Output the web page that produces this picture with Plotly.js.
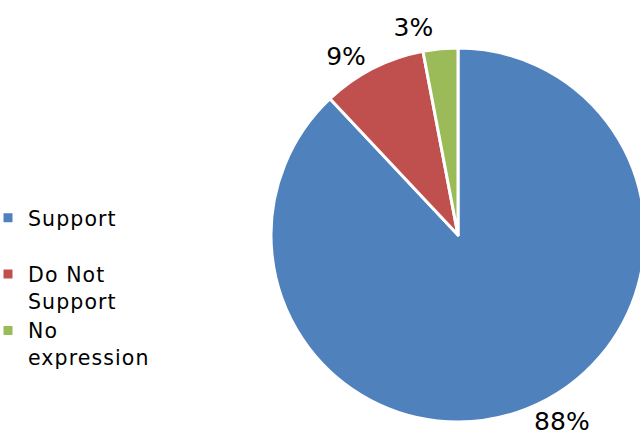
<!DOCTYPE html>
<html>
<head>
<meta charset="utf-8">
<script src="https://cdn.plot.ly/plotly-3.0.1.min.js"></script>
<style>
html,body{margin:0;padding:0;overflow:hidden;background:#fff;width:640px;height:445px;}
#chart{width:940px;height:445px;margin-left:-12px;}
.pielayer path.textline{display:none;}
.legendtext{letter-spacing:1.1px;}
</style>
</head>
<body>
<div id="chart"></div>
<script>
const categories = ["Support<br>&nbsp;", "Do Not<br>Support", "No<br>expression"];
const shares = [88, 9, 3];
const colors = ["#4F81BD", "#C0504D", "#9BBB59"];

const trace = {
  type: "pie",
  labels: categories,
  values: shares,
  sort: false,
  direction: "clockwise",
  rotation: 0,
  marker: {colors: colors, line: {color: "#ffffff", width: 3}},
  textinfo: "percent",
  textposition: "outside",
  outsidetextfont: {family: "DejaVu Sans", size: 25, color: "#000"},
  hoverinfo: "label+percent",
  domain: {x: [0, 1], y: [0, 1]}
};

const layout = {
  width: 940,
  height: 445,
  margin: {l: 0, r: 0, t: 48, b: 23},
  paper_bgcolor: "#ffffff",
  font: {family: "DejaVu Sans", size: 20.5, color: "#000"},
  showlegend: true,
  legend: {
    x: 0, y: 0.599, xanchor: "left", yanchor: "top",
    valign: "top",
    font: {family: "DejaVu Sans", size: 20.5, color: "#000"},
    itemwidth: 30,
    tracegroupgap: 0
  }
};

Plotly.newPlot("chart", [trace], layout, {displayModeBar: false, staticPlot: true});
</script>
</body>
</html>
